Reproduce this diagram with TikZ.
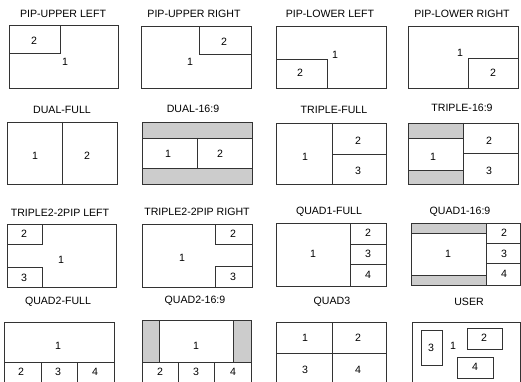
\documentclass[tikz,border=0pt]{standalone}
\usepackage{fontspec}
\setmainfont{Liberation Sans}
\definecolor{ln}{HTML}{333333}
\definecolor{bandgray}{HTML}{CCCCCC}
\begin{document}
\begin{tikzpicture}[x=1pt,y=-1pt,
  frame/.style={draw=ln,line width=0.9pt},
  band/.style={fill=bandgray},
  ttl/.style={font=\fontsize{10.6}{12}\selectfont,inner sep=0pt,anchor=center},
  num/.style={font=\fontsize{10.6}{12}\selectfont,inner sep=0pt,anchor=center}]
\useasboundingbox (0,0) rectangle (521,382);
\clip (0,0) rectangle (521,382);
\fill[white] (0,0) rectangle (521,382);
% ---------- Row 1 ----------
\node[ttl] (t1) at (63,14) {PIP-UPPER LEFT};
\draw[frame] (9,25) rectangle (118,88);
\draw[frame] (9,25) rectangle (60,53);
\node[num] (a2) at (34,41) {2};
\node[num] (a1) at (65,62) {1};

\node[ttl] (t2) at (194,14) {PIP-UPPER RIGHT};
\draw[frame] (141,26) rectangle (251,88);
\draw[frame] (199,26) rectangle (251,54);
\node[num] (b2) at (224,42) {2};
\node[num] (b1) at (190,62) {1};

\node[ttl] (t3) at (330,14) {PIP-LOWER LEFT};
\draw[frame] (276,26) rectangle (386,88);
\draw[frame] (276,59) rectangle (327,88);
\node[num] (c1) at (335,55) {1};
\node[num] (c2) at (300,73) {2};

\node[ttl] (t4) at (462,14) {PIP-LOWER RIGHT};
\draw[frame] (408,26) rectangle (518,88);
\draw[frame] (468,58) rectangle (518,88);
\node[num] (d1) at (460,53) {1};
\node[num] (d2) at (493,73) {2};
% ---------- Row 2 ----------
\node[ttl] (t5) at (62,110) {DUAL-FULL};
\draw[frame] (7,122) rectangle (117,184);
\draw[frame] (62,122) -- (62,184);
\node[num] (e1) at (35,156) {1};
\node[num] (e2) at (87,156) {2};

\node[ttl] (t6) at (193,109) {DUAL-16:9};
\fill[band] (142,122) rectangle (252,138);
\fill[band] (142,168) rectangle (252,184);
\draw[frame] (142,122) rectangle (252,184);
\draw[frame] (142,138) -- (252,138);
\draw[frame] (142,168) -- (252,168);
\draw[frame] (197,138) -- (197,168);
\node[num] (f1) at (168,154) {1};
\node[num] (f2) at (220,154) {2};

\node[ttl] (t7) at (334,110) {TRIPLE-FULL};
\draw[frame] (276,123) rectangle (386,184);
\draw[frame] (332,123) -- (332,184);
\draw[frame] (332,154) -- (386,154);
\node[num] (g1) at (305,157) {1};
\node[num] (g2) at (358,141) {2};
\node[num] (g3) at (358,171) {3};

\node[ttl] (t8) at (462,108) {TRIPLE-16:9};
\fill[band] (408,123) rectangle (463,138);
\fill[band] (408,170) rectangle (463,184);
\draw[frame] (408,123) rectangle (518,184);
\draw[frame] (408,138) -- (463,138);
\draw[frame] (408,170) -- (463,170);
\draw[frame] (463,123) -- (463,184);
\draw[frame] (463,153) -- (518,153);
\node[num] (h1) at (433,157) {1};
\node[num] (h2) at (489,141) {2};
\node[num] (h3) at (489,171) {3};
% ---------- Row 3 ----------
\node[ttl] (t9) at (60,213) {TRIPLE2-2PIP LEFT};
\draw[frame] (7,224) rectangle (116,287);
\draw[frame] (7,224) rectangle (42,244);
\draw[frame] (7,267) rectangle (42,287);
\node[num] (i2) at (24,234) {2};
\node[num] (i3) at (24,278) {3};
\node[num] (i1) at (61,260) {1};

\node[ttl] (t10) at (197,212) {TRIPLE2-2PIP RIGHT};
\draw[frame] (142,224) rectangle (252,287);
\draw[frame] (215,224) rectangle (252,244);
\draw[frame] (215,266) rectangle (252,287);
\node[num] (j2) at (233,234) {2};
\node[num] (j3) at (233,277) {3};
\node[num] (j1) at (182,258) {1};

\node[ttl] (t11) at (329,212) {QUAD1-FULL};
\draw[frame] (276,223) rectangle (386,286);
\draw[frame] (350,223) -- (350,286);
\draw[frame] (350,244) -- (386,244);
\draw[frame] (350,264) -- (386,264);
\node[num] (k1) at (313,254) {1};
\node[num] (k2) at (368,233) {2};
\node[num] (k3) at (368,254) {3};
\node[num] (k4) at (368,275) {4};

\node[ttl] (t12) at (460,212) {QUAD1-16:9};
\fill[band] (411,223) rectangle (486,233);
\fill[band] (411,275) rectangle (486,285);
\draw[frame] (411,223) rectangle (520.5,285);
\draw[frame] (411,233) -- (486,233);
\draw[frame] (411,275) -- (486,275);
\draw[frame] (486,223) -- (486,285);
\draw[frame] (486,243) -- (521,243);
\draw[frame] (486,263) -- (521,263);
\node[num] (l1) at (448,254) {1};
\node[num] (l2) at (504,233) {2};
\node[num] (l3) at (504,254) {3};
\node[num] (l4) at (504,274) {4};
% ---------- Row 4 ----------
\node[ttl] (t13) at (58,302) {QUAD2-FULL};
\draw[frame] (4,322) rectangle (114,395);
\draw[frame] (4,362) -- (114,362);
\draw[frame] (41,362) -- (41,395);
\draw[frame] (77,362) -- (77,395);
\node[num] (m1) at (58,346) {1};
\node[num] (m2) at (21,372) {2};
\node[num] (m3) at (58,372) {3};
\node[num] (m4) at (95,372) {4};

\node[ttl] (t14) at (195,301) {QUAD2-16:9};
\fill[band] (142,320) rectangle (159,362);
\fill[band] (233,320) rectangle (251,362);
\draw[frame] (142,320) rectangle (251,395);
\draw[frame] (159,320) -- (159,362);
\draw[frame] (233,320) -- (233,362);
\draw[frame] (142,362) -- (251,362);
\draw[frame] (178,362) -- (178,395);
\draw[frame] (214,362) -- (214,395);
\node[num] (n1) at (196,346) {1};
\node[num] (n2) at (160,372) {2};
\node[num] (n3) at (196,372) {3};
\node[num] (n4) at (233,372) {4};

\node[ttl] (t15) at (332,302) {QUAD3};
\draw[frame] (276,322) rectangle (386,395);
\draw[frame] (332,322) -- (332,395);
\draw[frame] (276,353) -- (386,353);
\node[num] (o1) at (305,338) {1};
\node[num] (o2) at (358,338) {2};
\node[num] (o3) at (305,370) {3};
\node[num] (o4) at (358,370) {4};

\node[ttl] (t16) at (469,302) {USER};
\draw[frame] (412,322) rectangle (520.5,395);
\draw[frame] (421,330) rectangle (442,365);
\draw[frame] (467,328) rectangle (502,349);
\draw[frame] (457,357) rectangle (493,378);
\node[num] (p1) at (453,346) {1};
\node[num] (p3) at (431,348) {3};
\node[num] (p2) at (484,338) {2};
\node[num] (p4) at (475,367) {4};
\end{tikzpicture}
\end{document}
